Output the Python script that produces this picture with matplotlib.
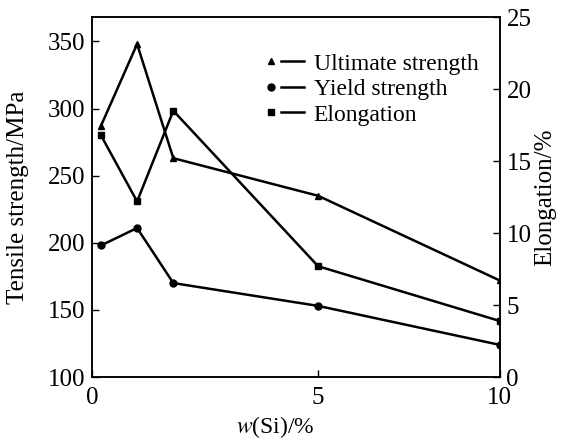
import numpy as np
import matplotlib
matplotlib.use("Agg")
import matplotlib.pyplot as plt
from matplotlib.lines import Line2D
from matplotlib.legend_handler import HandlerLine2DCompound

# values
si = [0.2, 1.0, 1.8, 5.0, 10.0]
ultimate = [287, 348, 263, 235, 172]
yield_strength = [198, 211, 170, 153, 124]
elongation = [16.8, 12.2, 18.5, 7.7, 3.9]

x_ticks = [0, 5, 10]
left_ticks = [100, 150, 200, 250, 300, 350]
right_ticks = [0, 5, 10, 15, 20, 25]

plt.rcParams["font.family"] = ["Liberation Serif", "DejaVu Serif"]
plt.rcParams["mathtext.fontset"] = "stix"


# the x axis of the original is not linear: 5 sits at ~55 % of the width
def fwd(x):
    x = np.asarray(x, dtype=float)
    return np.where(x <= 5, x * 0.111, 0.555 + (x - 5) * 0.089)


def inv(y):
    y = np.asarray(y, dtype=float)
    return np.where(y <= 0.555, y / 0.111, 5 + (y - 0.555) / 0.089)


class MarkerLeft(HandlerLine2DCompound):
    # marker drawn at the left end of the legend line
    def get_xdata(self, legend, xdescent, ydescent, width, height, fontsize):
        xdata = np.array([-xdescent + 0.3 * width, -xdescent + width])
        return xdata, np.array([-xdescent])


def main() -> int:
    fig = plt.figure(figsize=(5.67, 4.41), dpi=100)
    ax = fig.add_axes([0.162, 0.145, 0.719, 0.816])
    ax2 = ax.twinx()

    ax.set_xscale("function", functions=(fwd, inv))

    kw = dict(color="black", lw=1.8, ms=5)
    l1, = ax.plot(si, ultimate, marker="^", **kw)
    l2, = ax.plot(si, yield_strength, marker="o", **kw)
    l3, = ax2.plot(si, elongation, marker="s", **kw)

    ax.set_xlim(0, 10)
    ax.set_ylim(100, 368)
    ax2.set_ylim(0, 25)
    ax.set_xticks(x_ticks)
    ax.set_yticks(left_ticks)
    ax2.set_yticks(right_ticks)

    ax.tick_params(direction="in", length=5, width=1, labelsize=18, pad=5)
    ax.tick_params(axis="x", pad=7)
    ax2.tick_params(direction="in", length=5, width=1, labelsize=18, pad=5)
    for a in (ax, ax2):
        for s in a.spines.values():
            s.set_linewidth(1.1)

    ax.set_xlabel(r"$\it{w}$(Si)/%", fontsize=17)
    ax.xaxis.set_label_coords(0.45, -0.104)
    ax.set_ylabel("Tensile strength/MPa", fontsize=18)
    ax.yaxis.set_label_coords(-0.155, 0.5)
    ax2.set_ylabel("Elongation/%", fontsize=18)
    ax2.yaxis.set_label_coords(1.085, 0.5)

    ax2.legend([l1, l2, l3], ["Ultimate strength", "Yield strength", "Elongation"],
               handler_map={Line2D: MarkerLeft()}, loc="upper left",
               bbox_to_anchor=(0.44, 0.90), frameon=False, fontsize=17,
               handlelength=1.4, handletextpad=0.4, labelspacing=0.165,
               borderpad=0, borderaxespad=0)

    fig.savefig("out.png", dpi=100)
    return 0


if __name__ == "__main__":
    main()
